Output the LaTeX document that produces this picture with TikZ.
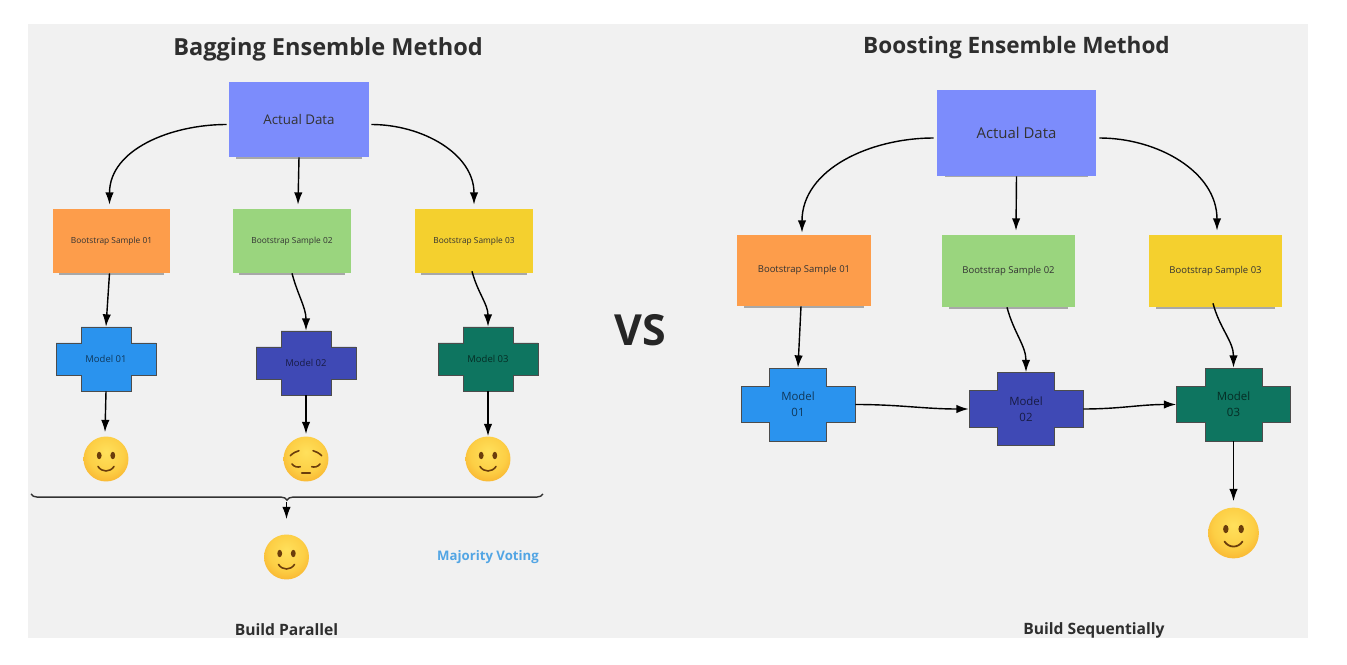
\documentclass[tikz,border=0pt]{standalone}
\usepackage{xcolor}
\usepackage{fontspec}
\setmainfont{Open Sans}
\usetikzlibrary{arrows.meta,calc,shadows,decorations.pathreplacing}

\definecolor{canvasgray}{HTML}{F1F1F1}
\definecolor{dataBlue}{HTML}{7C8CFC}
\definecolor{sampleOrange}{HTML}{FD9D4B}
\definecolor{sampleGreen}{HTML}{9AD57E}
\definecolor{sampleYellow}{HTML}{F4D02E}
\definecolor{modelBlue}{HTML}{2A93EE}
\definecolor{modelIndigo}{HTML}{3F49B5}
\definecolor{modelTeal}{HTML}{0E7560}
\definecolor{voteBlue}{HTML}{52A5E4}
\definecolor{faceBrown}{HTML}{6B3D0C}

\pgfdeclareradialshading{emojiface}{\pgfpoint{0bp}{8bp}}{
    rgb(0bp)=(1,.88,.36);
    rgb(20bp)=(.99,.81,.27);
    rgb(34bp)=(.97,.68,.17);
    rgb(48bp)=(.93,.55,.10);
    rgb(60bp)=(.90,.48,.07)}

\tikzset{
    note/.style={rectangle, text=black!80, inner sep=0pt,
        drop shadow={shadow xshift=0pt, shadow yshift=-3.5pt, shadow scale=.9, opacity=.3, fill=black}},
    flow/.style={-{Latex[length=7pt, width=4.8pt]}, thick, black},
    crossline/.style={draw=black!70, line width=.5pt},
    crosstext/.style={rectangle, inner sep=0pt, align=center, text=black, text opacity=.62},
    face/.style={circle, inner sep=0pt, shading=emojiface},
    title/.style={font=\fontsize{13.4}{15}\selectfont\bfseries, text=black!82},
    caption/.style={font=\fontsize{8.9}{10}\selectfont\bfseries, text=black!82}
}

% name, position, fill, scale, text, text size
\newcommand{\modelcross}[6]{
    \draw[crossline, fill=#3, shift={#2}, scale=#4]
        (-50,-16) -- (-25,-16) -- (-25,-32) -- (25,-32) -- (25,-16) -- (50,-16)
        -- (50,16) -- (25,16) -- (25,32) -- (-25,32) -- (-25,16) -- (-50,16) -- cycle;
    \node[crosstext, minimum width=#4*2cm, minimum height=#4*1.28cm, font=\fontsize{#6}{9.2}\selectfont] (#1) at #2 {#5};
}
% name, position, scale
\newcommand{\smileface}[3]{
    \node[face, minimum size=#3*.9cm] (#1) at #2 {};
    \begin{scope}[shift={#2}, scale=#3]
        \fill[faceBrown] (-6.8,-3.5) ellipse (2.4 and 3.7);
        \fill[faceBrown] (6.8,-3.5) ellipse (2.4 and 3.7);
        \draw[faceBrown, line width=#3*.9pt, line cap=round] (-8,7.5) .. controls (-4,13.5) and (4,13.5) .. (8,7.5);
    \end{scope}
}
\newcommand{\sadface}[3]{
    \node[face, minimum size=#3*.9cm] (#1) at #2 {};
    \begin{scope}[shift={#2}, scale=#3, faceBrown, line width=#3*.9pt, line cap=round]
        \draw (-15.7,-3.3) .. controls (-13,-6) and (-10,-7.5) .. (-7,-8.3);
        \draw (15.7,-3.3) .. controls (13,-6) and (10,-7.5) .. (7,-8.3);
        \draw (-14,5) .. controls (-12,8) and (-8,8.5) .. (-5.7,7.7);
        \draw (14,5) .. controls (12,8) and (8,8.5) .. (5.7,7.7);
        \draw[line width=#3*1.3pt] (-4,14) -- (4,14);
    \end{scope}
}

\begin{document}
\begin{tikzpicture}[x=.02cm, y=-.02cm]
    \useasboundingbox (0,0) rectangle (1347,665);
    \fill[canvasgray] (28,24) rectangle (1308,638);

    % Bagging
    \node[title] (bagtitle) at (328,49) {Bagging Ensemble Method};
    \node[note, fill=dataBlue, minimum width=2.8cm, minimum height=1.5cm, font=\fontsize{7.6}{9}\selectfont] (bagdata) at (299,119.5) {Actual Data};
    \node[note, fill=sampleOrange, minimum width=2.34cm, minimum height=1.28cm, font=\fontsize{4.75}{6}\selectfont] (bagsample1) at (111.5,241) {Bootstrap Sample 01};
    \node[note, fill=sampleGreen, minimum width=2.36cm, minimum height=1.28cm, font=\fontsize{4.75}{6}\selectfont] (bagsample2) at (292,241) {Bootstrap Sample 02};
    \node[note, fill=sampleYellow, minimum width=2.36cm, minimum height=1.28cm, font=\fontsize{4.75}{6}\selectfont] (bagsample3) at (474,241) {Bootstrap Sample 03};
    \modelcross{bagmodel1}{(106,359)}{modelBlue}{1}{Model 01}{5.4}
    \modelcross{bagmodel2}{(306,363)}{modelIndigo}{1}{Model 02}{5.4}
    \modelcross{bagmodel3}{(488,359)}{modelTeal}{1}{Model 03}{5.4}
    \smileface{bagface1}{(106,459)}{1}
    \sadface{bagface2}{(306,459)}{1}
    \smileface{bagface3}{(488,459)}{1}
    \smileface{bagvote}{(286.5,557)}{1}
    \node[caption, font=\fontsize{7.5}{10}\selectfont\bfseries, text=voteBlue] (votelabel) at (488,557) {Majority Voting};
    \node[caption] (bagcaption) at (286.5,629.5) {Build Parallel};

    \coordinate (braceleft) at (31,494);
    \coordinate (braceright) at (543,494);
    \coordinate (bracetip) at (286.5,502);

    \draw[flow] ($(bagdata.west)+(-2,5)$) to[out=180, in=90] ($(bagsample1.north)+(-2,-4)$);
    \draw[flow] (bagdata.south) -- ($(bagsample2.north)+(6,-4)$);
    \draw[flow] ($(bagdata.east)+(2,5)$) to[out=0, in=90] ($(bagsample3.north)+(0,-4)$);
    \draw[flow] ($(bagsample1.south)+(-2,0)$) -- (bagmodel1.north);
    \draw[flow] (bagsample2.south) to[out=-75, in=90] (bagmodel2.north);
    \draw[flow] ($(bagsample3.south)+(-2,-2)$) to[out=-75, in=90] (bagmodel3.north);
    \draw[flow] (bagmodel1.south) -- ($(bagface1.north)+(-1,-4)$);
    \draw[flow] (bagmodel2.south) -- ($(bagface2.north)+(0,-2)$);
    \draw[flow] (bagmodel3.south) -- (bagface3.north);
    \draw[thick, black!80, decorate, decoration={brace, mirror, amplitude=3.5pt}] (braceleft) -- (braceright);
    \draw[flow, shorten >=.3cm] (bracetip) -- (bagvote.north);

    % VS
    \node[font=\fontsize{24.4}{28}\selectfont\bfseries, text=black!85] (versus) at (640,330) {VS};

    % Boosting
    \node[title, font=\fontsize{12.85}{15}\selectfont\bfseries] (boosttitle) at (1016.5,48) {Boosting Ensemble Method};
    \node[note, fill=dataBlue, minimum width=3.18cm, minimum height=1.72cm, font=\fontsize{8.5}{10}\selectfont] (boostdata) at (1016.5,133) {Actual Data};
    \node[note, fill=sampleOrange, minimum width=2.68cm, minimum height=1.42cm, font=\fontsize{5.4}{7}\selectfont] (boostsample1) at (804,270.5) {Bootstrap Sample 01};
    \node[note, fill=sampleGreen, minimum width=2.66cm, minimum height=1.44cm, font=\fontsize{5.4}{7}\selectfont] (boostsample2) at (1008.5,271) {Bootstrap Sample 02};
    \node[note, fill=sampleYellow, minimum width=2.66cm, minimum height=1.44cm, font=\fontsize{5.4}{7}\selectfont] (boostsample3) at (1215.5,271) {Bootstrap Sample 03};
    \modelcross{boostmodel1}{(798,404.5)}{modelBlue}{1.14}{Model\\01}{6.5}
    \modelcross{boostmodel2}{(1026,409)}{modelIndigo}{1.14}{Model\\02}{6.5}
    \modelcross{boostmodel3}{(1233.5,404.5)}{modelTeal}{1.14}{Model\\03}{6.5}
    \smileface{boostface}{(1233.5,533)}{1.13}
    \node[caption] (boostcaption) at (1094,630) {Build Sequentially};

    \draw[flow] ($(boostdata.west)+(-3,5)$) to[out=180, in=90] ($(boostsample1.north)+(-2,-2)$);
    \draw[flow] (boostdata.south) -- ($(boostsample2.north)+(7.5,-4)$);
    \draw[flow] ($(boostdata.east)+(3,5)$) to[out=0, in=90] ($(boostsample3.north)+(1.5,-4)$);
    \draw[flow] ($(boostsample1.south)+(-3,0)$) -- (boostmodel1.north);
    \draw[flow] ($(boostsample2.south)+(-1.5,0)$) to[out=-75, in=90] (boostmodel2.north);
    \draw[flow] ($(boostsample3.south)+(-2.5,-4)$) to[out=-75, in=90] (boostmodel3.north);
    \draw[flow] (boostmodel1.east) to[out=0, in=180] (boostmodel2.west);
    \draw[flow] (boostmodel2.east) to[out=0, in=180] (boostmodel3.west);
    \draw[flow] (boostmodel3.south) -- ($(boostface.north)+(0,-6)$);
\end{tikzpicture}
\end{document}
